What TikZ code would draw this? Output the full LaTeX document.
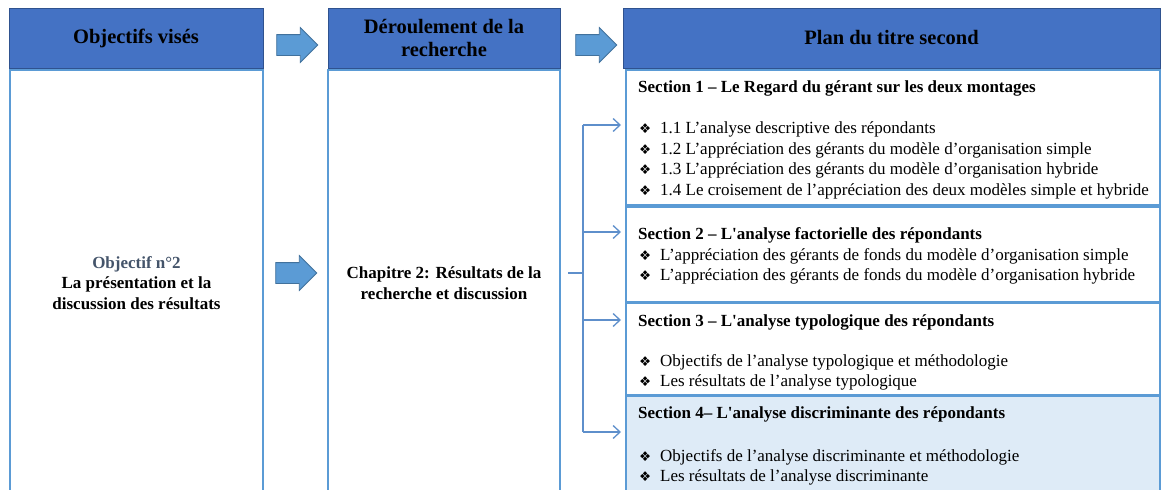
\documentclass[tikz,border=0pt]{standalone}
\usepackage{fontspec}
\setmainfont{Liberation Serif}
\newfontfamily\symfont{DejaVu Sans}
\usetikzlibrary{shapes.arrows, arrows.meta, positioning, calc}
\definecolor{headblue}{HTML}{4472C4}
\definecolor{headedge}{HTML}{2F528F}
\definecolor{boxblue}{HTML}{5B9BD5}
\definecolor{arrowedge}{HTML}{41719C}
\definecolor{linkblue}{HTML}{5E8FCB}
\definecolor{paleblue}{HTML}{DEEBF7}
\definecolor{objgray}{HTML}{44546A}
\newcommand{\puce}{\makebox[22pt][l]{\hspace{1pt}{\symfont\fontsize{13.5}{13.5}\selectfont ❖}}}

\begin{document}
\begin{tikzpicture}[x=1pt, y=-1pt,
    every node/.style={font=\fontsize{17}{20.5}\selectfont},
    headbox/.style={draw=headedge, line width=1pt, fill=headblue, minimum height=60pt, inner sep=0pt, align=center, font=\fontsize{20.5}{23}\selectfont\bfseries},
    colbox/.style={draw=boxblue, line width=2pt, minimum height=426pt, inner sep=0pt, align=center, font=\fontsize{17}{20.5}\selectfont\bfseries},
    secbox/.style={draw=boxblue, line width=2pt, minimum width=534pt, inner sep=0pt},
    sectext/.style={anchor=north west, inner sep=0pt, align=left},
    bigarrow/.style={single arrow, draw=arrowedge, fill=boxblue, line width=0.8pt, minimum height=41pt, minimum width=34pt, single arrow head extend=7pt, inner sep=10pt},
    link/.style={draw=linkblue, line width=1.3pt},
    linkarrow/.style={link, -{Straight Barb[length=7pt, width=13pt]}}
]
    \path[use as bounding box, clip] (0,0) rectangle (1163,490);

    % Headers
    \node[headbox, minimum width=254pt] (hobj) at (136,38) {Objectifs visés};
    \node[headbox, minimum width=232pt] (hder) at (444,38) {Déroulement de la\\recherche};
    \node[headbox, minimum width=537pt] (hplan) at (891.5,38) {Plan du titre second};

    % Columns
    \node[colbox, minimum width=253pt] (obj) at (136.5,283) {{\color{objgray}Objectif n°2}\\La présentation  et la\\discussion  des résultats};
    \node[colbox, minimum width=232pt] (mid) at (444,283) {Chapitre 2: Résultats de la\\recherche et discussion};

    % Block arrows
    \node[bigarrow] (a1) at (292,45) {};
    \node[bigarrow] (a2) at (591,45) {};
    \node[bigarrow] (a3) at (291,273) {};

    % Sections
    \node[secbox, minimum height=135pt] (s1) at (893,137.5) {};
    \node[secbox, minimum height=95pt] (s2) at (893,254.5) {};
    \node[secbox, minimum height=92pt] (s3) at (893,349) {};
    \node[secbox, fill=paleblue, minimum height=100pt] (s4) at (893,446) {};

    \node[sectext] (t1) at ([xshift=13pt, yshift=-9pt]s1.north west) {\strut\textbf{Section 1 – Le Regard du gérant sur  les deux montages}\\[20.5pt]
        \puce 1.1 L’analyse  descriptive des répondants\\
        \puce 1.2 L’appréciation  des gérants du modèle d’organisation simple\\
        \puce 1.3 L’appréciation  des gérants du modèle d’organisation hybride\\
        \puce 1.4 Le croisement de l’appréciation des deux modèles simple et hybride};
    \node[sectext] (t2) at ([xshift=13pt, yshift=-19pt]s2.north west) {\strut\textbf{Section 2 – L\textquotesingle analyse factorielle des répondants}\\
        \puce L’appréciation des gérants de fonds du modèle d’organisation simple\\
        \puce L’appréciation des gérants de fonds du modèle d’organisation hybride};
    \node[sectext] (t3) at ([xshift=13pt, yshift=-10pt]s3.north west) {\strut\textbf{Section 3 – L\textquotesingle analyse typologique des répondants}\\[19pt]
        \puce Objectifs de l’analyse typologique et méthodologie\\
        \puce Les résultats de l’analyse  typologique};
    \node[sectext] (t4) at ([xshift=13pt, yshift=-9pt]s4.north west) {\strut\textbf{Section 4– L\textquotesingle analyse discriminante  des répondants}\\[22pt]
        \puce Objectifs de l’analyse discriminante et méthodologie\\
        \puce Les résultats de l’analyse  discriminante};

    % Connectors
    \coordinate (hub) at (583,273);
    \coordinate (b1) at (583,125);
    \coordinate (b2) at (583,232);
    \coordinate (b3) at (583,320);
    \coordinate (b4) at (583,432);
    \draw[link] ($(mid.east |- hub)+(7,0)$) -- (hub);
    \draw[link] (b1) -- (b4);
    \foreach \b/\s in {b1/s1, b2/s2, b3/s3, b4/s4}
        \draw[linkarrow, shorten >=4pt] (\b) -- (\b -| \s.west);
\end{tikzpicture}
\end{document}
